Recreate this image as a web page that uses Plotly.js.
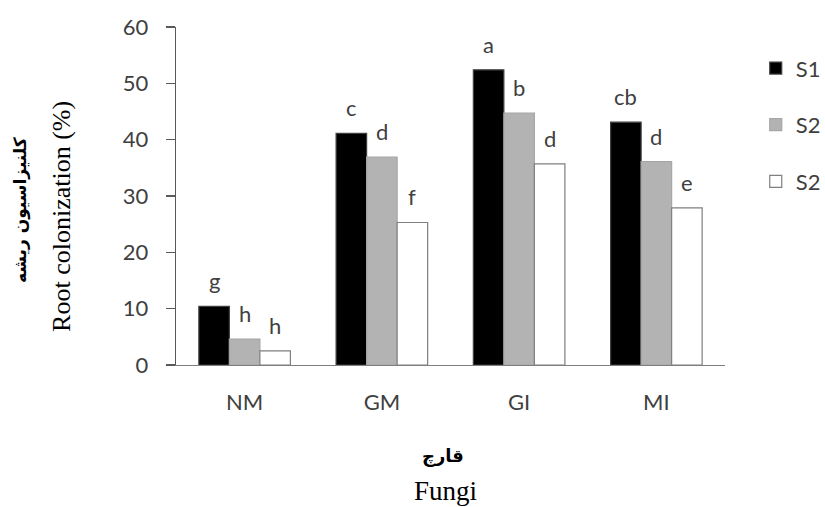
<!DOCTYPE html>
<html>
<head>
<meta charset="utf-8">
<script src="https://cdn.plot.ly/plotly-3.0.1.min.js"></script>
<style>html,body{margin:0;padding:0;background:#fff;}#chart{width:825px;height:507px;}</style>
</head>
<body>
<div id="chart"></div>
<script>
var categories = ["NM", "GM", "GI", "MI"];
var seriesNames = ["S1", "S2", "S2"];
var s1Values = [10.4, 41.1, 52.4, 43.1];
var s2Values = [4.6, 36.9, 44.7, 36.1];
var s3Values = [2.5, 25.3, 35.7, 27.9];
var s1Letters = ["g", "c", "a", "cb"];
var s2Letters = ["h", "d", "b", "d"];
var s3Letters = ["h", "f", "d", "e"];
var yTickValues = [0, 10, 20, 30, 40, 50, 60];

var allValues = [s1Values, s2Values, s3Values];
var allLetters = [s1Letters, s2Letters, s3Letters];
var fills = ["#000000", "#b3b3b3", "#ffffff"];
var outlines = ["#404040", "#a6a6a6", "#7f7f7f"];

var traces = allValues.map(function (vals, i) {
  return {
    type: "bar",
    x: categories,
    y: vals,
    name: seriesNames[i],
    legendgroup: "g" + i,
    marker: { color: fills[i], line: { color: outlines[i], width: 1.2 } },
    hoverinfo: "x+y"
  };
});

var tickFont = { family: "Lato, 'Open Sans', sans-serif", size: 22, color: "#404040" };
var annotations = [];
var shiftPx = [-30.5, 0, 30.5];
allValues.forEach(function (vals, i) {
  vals.forEach(function (v, j) {
    annotations.push({
      xref: "x", yref: "y", x: categories[j], y: v,
      xshift: shiftPx[i], yshift: 10,
      text: allLetters[i][j], showarrow: false,
      xanchor: "center", yanchor: "bottom",
      font: tickFont
    });
  });
});

annotations.push(
  { xref: "paper", yref: "paper", x: -0.2077, y: 0.441, text: "Root colonization (%)",
    textangle: -90, showarrow: false, xanchor: "center", yanchor: "middle",
    font: { family: "'Liberation Serif', 'Times New Roman', serif", size: 26, color: "#000" } },
  { xref: "paper", yref: "paper", x: -0.282, y: 0.459, text: "کلنیزاسیون ریشه",
    textangle: -90, showarrow: false, xanchor: "center", yanchor: "middle",
    font: { family: "'DejaVu Sans', sans-serif", size: 17, color: "#000", weight: "bold" } },
  { xref: "paper", yref: "paper", x: 0.487, y: -0.270, text: "قارچ",
    showarrow: false, xanchor: "center", yanchor: "middle",
    font: { family: "'DejaVu Sans', sans-serif", size: 18, color: "#000", weight: "bold" } },
  { xref: "paper", yref: "paper", x: 0.49, y: -0.372, text: "Fungi",
    showarrow: false, xanchor: "center", yanchor: "middle",
    font: { family: "'Liberation Serif', 'Times New Roman', serif", size: 27, color: "#000" } }
);

var layout = {
  width: 825, height: 507,
  margin: { l: 176, r: 100, t: 27, b: 141.5, autoexpand: false },
  paper_bgcolor: "#ffffff", plot_bgcolor: "#ffffff",
  barmode: "group", bargap: 0.333, bargroupgap: 0,
  showlegend: true,
  legend: {
    x: 1.056, xanchor: "left", y: 0.94, yanchor: "top",
    font: tickFont, tracegroupgap: 25, traceorder: "grouped",
    itemwidth: 30,
    bgcolor: "rgba(0,0,0,0)"
  },
  xaxis: {
    type: "category", showgrid: false, zeroline: false,
    showline: true, linecolor: "#7f7f7f", linewidth: 1.3,
    ticks: "", tickfont: tickFont, ticklabelstandoff: 17
  },
  yaxis: {
    range: [0, 60], tickvals: yTickValues, showgrid: false, zeroline: false,
    showline: true, linecolor: "#595959", linewidth: 1.3,
    ticks: "outside", ticklen: 9, tickcolor: "#595959", tickwidth: 1.3,
    tickfont: tickFont, ticklabelstandoff: 13
  },
  annotations: annotations
};

Plotly.newPlot("chart", traces, layout, { displayModeBar: false, staticPlot: true });
</script>
</body>
</html>
